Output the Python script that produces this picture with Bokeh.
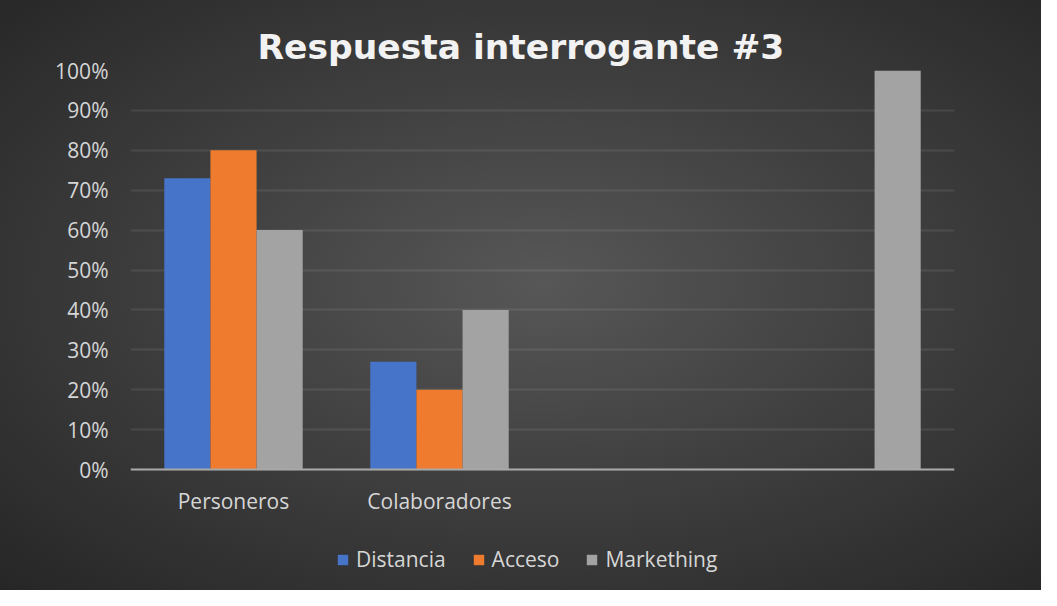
from bokeh.plotting import figure
from bokeh.models import ColumnDataSource, FactorRange, Range1d, NumeralTickFormatter, Legend, LegendItem, FixedTicker
from bokeh.transform import dodge
from bokeh.embed import file_html
from bokeh.resources import INLINE

categories = ["Personeros", "Colaboradores", " ", "  "]
distancia = [0.73, 0.27, 0.0, 0.0]
acceso = [0.80, 0.20, 0.0, 0.0]
marketing = [0.60, 0.40, 0.0, 1.00]
series_names = ["Distancia", "Acceso", "Markething"]
y_ticks = [0, 0.1, 0.2, 0.3, 0.4, 0.5, 0.6, 0.7, 0.8, 0.9, 1.0]

source = ColumnDataSource(dict(cat=categories, Distancia=distancia, Acceso=acceso, Markething=marketing))

# frame spans y 70..590; value axis 0..1 occupies 399 px, the rest below holds labels and legend
p = figure(width=1041, height=590, x_range=FactorRange(*categories, range_padding=0),
           y_range=Range1d(-121 / 399, 1.0), output_backend="svg", toolbar_location=None,
           min_border_left=130, min_border_right=87, min_border_top=70, min_border_bottom=0)

p.styles = {"background-image": "radial-gradient(ellipse farthest-corner at 52% 48%, #575757 0%, #404040 45%, #262626 100%)"}
p.border_fill_color = None
p.background_fill_color = None
p.outline_line_color = None

p.title.text = "Respuesta interrogante #3"
p.title.text_font = "DejaVu Sans"
p.title.text_font_style = "bold"
p.title.text_font_size = "34.5px"
p.title.text_color = "#f2f2f2"
p.title.align = "left"
p.title.offset = 127
p.title.standoff = 8

font = "Open Sans"
colors = ["#4674c8", "#ef7b2e", "#a3a3a3"]
w = 0.224
offsets = [-w, 0.0, w]
renderers = []
for name, off, c in zip(series_names, offsets, colors):
    r = p.vbar(x=dodge("cat", off, range=p.x_range), top=name, width=w, source=source,
               fill_color=c, line_color=None)
    renderers.append(r)

p.yaxis.ticker = FixedTicker(ticks=y_ticks)
p.yaxis.formatter = NumeralTickFormatter(format="0%")
p.yaxis.axis_line_color = None
p.yaxis.major_tick_line_color = None
p.yaxis.minor_tick_line_color = None
p.yaxis.major_label_standoff = 16
p.yaxis.major_label_text_font = font
p.yaxis.major_label_text_font_size = "21px"
p.yaxis.major_label_text_color = "#d6d6d6"

p.xaxis.fixed_location = 0
p.xaxis.axis_line_color = "#a8a8a8"
p.xaxis.axis_line_width = 2
p.xaxis.major_tick_line_color = None
p.xaxis.minor_tick_line_color = None
p.xaxis.major_label_standoff = 11
p.xaxis.major_label_text_font = font
p.xaxis.major_label_text_font_size = "21px"
p.xaxis.major_label_text_color = "#d6d6d6"

p.xgrid.grid_line_color = None
p.ygrid.grid_line_color = "white"
p.ygrid.grid_line_alpha = 0.09
p.ygrid.grid_line_width = 2

legend = Legend(items=[LegendItem(label=n, renderers=[r]) for n, r in zip(series_names, renderers)],
                orientation="horizontal", location=(206, 17),
                background_fill_alpha=0, border_line_color=None,
                label_text_font=font, label_text_font_size="21px", label_text_color="#d6d6d6",
                glyph_width=13, glyph_height=13, label_standoff=7, spacing=26,
                padding=0, margin=0, label_height=24)
p.add_layout(legend, "center")

open("out.html", "w").write(file_html(p, INLINE))
